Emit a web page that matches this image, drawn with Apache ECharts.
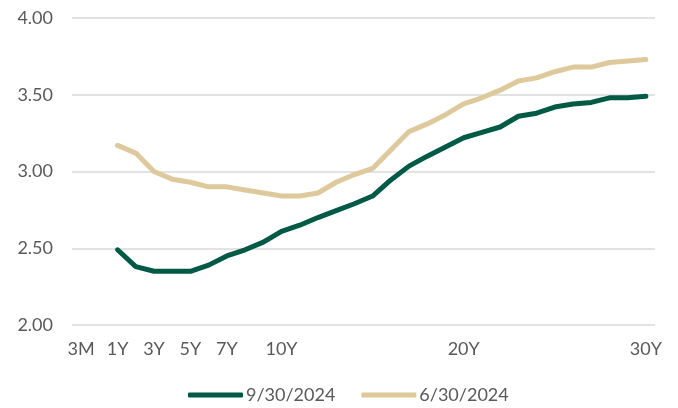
<!DOCTYPE html>
<html>
<head>
<meta charset="utf-8">
<script src="https://cdn.jsdelivr.net/npm/echarts@6/dist/echarts.min.js"></script>
<style>html,body{margin:0;padding:0;background:#fff}#c{width:678px;height:408px}</style>
</head>
<body>
<div id="c"></div>
<script>
const categories = ['3M','6M','1Y','2Y','3Y','4Y','5Y','6Y','7Y','8Y','9Y','10Y','11Y','12Y','13Y','14Y','15Y','16Y','17Y','18Y','19Y','20Y','21Y','22Y','23Y','24Y','25Y','26Y','27Y','28Y','29Y','30Y'];
const shownLabels = ['3M','1Y','3Y','5Y','7Y','10Y','20Y','30Y'];
const sep2024 = [null,null,2.49,2.38,2.35,2.35,2.35,2.39,2.45,2.49,2.54,2.61,2.65,2.70,2.745,2.79,2.84,2.945,3.035,3.10,3.16,3.22,3.255,3.29,3.36,3.38,3.42,3.44,3.45,3.48,3.48,3.49];
const jun2024 = [null,null,3.17,3.12,3.00,2.95,2.93,2.90,2.90,2.88,2.86,2.84,2.84,2.86,2.93,2.98,3.02,3.14,3.26,3.31,3.37,3.44,3.48,3.53,3.59,3.61,3.65,3.68,3.68,3.71,3.72,3.73];
const yTicks = [2.00, 2.50, 3.00, 3.50, 4.00];

const FONT = 'Lato';
const TXT = '#595959';
const chart = echarts.init(document.getElementById('c'));
chart.setOption({
  animation: false,
  grid: {left: 72, right: 23, top: 18, bottom: 83},
  legend: {
    left: 188, top: 386, padding: 0,
    itemWidth: 55, itemHeight: 5, itemGap: 26,
    icon: 'roundRect',
    textStyle: {fontFamily: FONT, fontSize: 18, color: TXT, padding: [0,0,0,-2]},
    data: ['9/30/2024','6/30/2024']
  },
  xAxis: {
    type: 'category',
    data: categories,
    boundaryGap: true,
    axisLine: {show: false},
    axisTick: {show: false},
    axisLabel: {
      interval: function(i, v){ return shownLabels.indexOf(v) >= 0; },
      fontFamily: FONT, fontSize: 18, color: TXT, margin: 15
    },
    splitLine: {show: false}
  },
  yAxis: {
    type: 'value',
    min: yTicks[0], max: yTicks[yTicks.length-1], interval: 0.5,
    axisLine: {show: false},
    axisTick: {show: false},
    axisLabel: {
      formatter: v => v.toFixed(2),
      fontFamily: FONT, fontSize: 18, color: TXT, margin: 19
    },
    splitLine: {lineStyle: {color: '#d9d9d9', width: 1.5}}
  },
  series: [
    {name: '9/30/2024', type: 'line', data: sep2024, symbol: 'none', z: 3,
     lineStyle: {color: '#005A46', width: 5, cap: 'round', join: 'round'}, itemStyle: {color: '#005A46'}},
    {name: '6/30/2024', type: 'line', data: jun2024, symbol: 'none', z: 2,
     lineStyle: {color: '#DDC99B', width: 5, cap: 'round', join: 'round'}, itemStyle: {color: '#DDC99B'}}
  ]
});
</script>
</body>
</html>
